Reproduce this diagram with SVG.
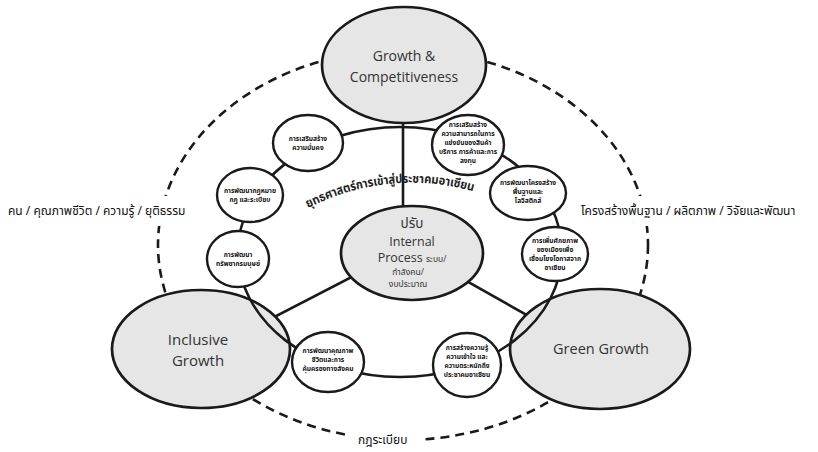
<svg xmlns="http://www.w3.org/2000/svg" width="818" height="452" viewBox="0 0 818 452">
<style>
.big{fill:#e6e6e6;stroke:#1a1a1a;stroke-width:2.7}
.sm{fill:#fff;stroke:#1a1a1a;stroke-width:2.4}
.ln{fill:none;stroke:#1a1a1a;stroke-width:2.6}
.dash{fill:none;stroke:#1a1a1a;stroke-width:2.6;stroke-dasharray:9 6}
.bt{font-family:"Open Sans","Noto Sans","Noto Sans Thai",sans-serif;fill:#333;text-anchor:middle}
.th{font-family:"Noto Sans","Noto Sans Thai","Loma",sans-serif;fill:#111;text-anchor:middle;font-weight:bold;font-size:6.6px}
.lab{font-family:"Noto Sans","Noto Sans Thai",sans-serif;fill:#111;font-size:12px}
</style>
<defs>
<path id="arcp" d="M 308 208 A 226 226 0 0 1 482 194"/>
</defs>
<rect width="818" height="452" fill="#fff"/>
<g id="connectors">
<ellipse class="dash" cx="403" cy="245" rx="245" ry="195"/>
<rect x="150" y="196" width="50" height="30" fill="#fff"/>
<rect x="600" y="196" width="60" height="30" fill="#fff"/>
<rect x="350" y="428" width="75" height="22" fill="#fff"/>
<line class="ln" x1="403" y1="100" x2="403" y2="215"/>
<line class="ln" x1="400" y1="252" x2="230" y2="340"/>
<line class="ln" x1="415" y1="252" x2="580" y2="345"/>
</g>
<g id="growth-competitiveness">
<ellipse class="big" cx="404" cy="65" rx="82" ry="58"/>
<text class="bt" x="404" y="61" font-size="14">Growth &amp;</text>
<text class="bt" x="404" y="82" font-size="14">Competitiveness</text>
</g>
<g id="inclusive-growth">
<ellipse class="big" cx="201" cy="349" rx="89" ry="59"/>
<text class="bt" x="198" y="345" font-size="15">Inclusive</text>
<text class="bt" x="198" y="366" font-size="15">Growth</text>
</g>
<g id="green-growth">
<ellipse class="big" cx="600" cy="349" rx="90" ry="60"/>
<text class="bt" x="601" y="354" font-size="14.5">Green Growth</text>
</g>
<g id="ring">
<ellipse class="ln" cx="400" cy="252" rx="162" ry="125"/>
</g>
<g id="center">
<ellipse class="big" cx="412" cy="253" rx="71" ry="47"/>
<text class="bt" x="412" y="228" font-size="13.5">ปรับ</text>
<text class="bt" x="412" y="246" font-size="12.5">Internal</text>
<text class="bt" x="412" y="262" font-size="12.5">Process <tspan font-size="8.5">ระบบ/</tspan></text>
<text class="bt" x="408" y="275" font-size="8.5">กำลังคน/</text>
<text class="bt" x="408" y="287" font-size="8.5">งบประมาณ</text>
</g>
<g id="s1">
<ellipse class="sm" cx="308" cy="143" rx="35" ry="28"/>
<text class="th" x="308" y="141">การเสริมสร้าง</text>
<text class="th" x="308" y="150">ความมั่นคง</text>
</g>
<g id="s2">
<ellipse class="sm" cx="468" cy="145" rx="36" ry="30"/>
<text class="th" x="468" y="127">การเสริมสร้าง</text>
<text class="th" x="468" y="136">ความสามารถในการ</text>
<text class="th" x="468" y="145">แข่งขันของสินค้า</text>
<text class="th" x="468" y="154">บริการ การค้าและการ</text>
<text class="th" x="468" y="163">ลงทุน</text>
</g>
<g id="s3">
<ellipse class="sm" cx="528" cy="193" rx="38" ry="27"/>
<text class="th" x="528" y="185">การพัฒนาโครงสร้าง</text>
<text class="th" x="528" y="194">พื้นฐานและ</text>
<text class="th" x="528" y="203">โลจิสติกส์</text>
</g>
<g id="s4">
<ellipse class="sm" cx="250" cy="195" rx="33" ry="27"/>
<text class="th" x="250" y="193">การพัฒนากฎหมาย</text>
<text class="th" x="250" y="202">กฎ และระเบียบ</text>
</g>
<g id="s5">
<ellipse class="sm" cx="238" cy="259" rx="31" ry="28"/>
<text class="th" x="238" y="257">การพัฒนา</text>
<text class="th" x="238" y="266">ทรัพยากรมนุษย์</text>
</g>
<g id="s6">
<ellipse class="sm" cx="555" cy="254" rx="33" ry="27"/>
<text class="th" x="555" y="243">การเพิ่มศักยภาพ</text>
<text class="th" x="555" y="252">ของเมืองเพื่อ</text>
<text class="th" x="555" y="261">เชื่อมโยงโอกาสจาก</text>
<text class="th" x="555" y="270">อาเซียน</text>
</g>
<g id="s7">
<ellipse class="sm" cx="328" cy="362" rx="36" ry="30"/>
<text class="th" x="328" y="353">การพัฒนาคุณภาพ</text>
<text class="th" x="328" y="362">ชีวิตและการ</text>
<text class="th" x="328" y="371">คุ้มครองทางสังคม</text>
</g>
<g id="s8">
<ellipse class="sm" cx="467" cy="365" rx="34" ry="32"/>
<text class="th" x="467" y="350">การสร้างความรู้</text>
<text class="th" x="467" y="359">ความเข้าใจ และ</text>
<text class="th" x="467" y="368">ความตระหนักถึง</text>
<text class="th" x="467" y="377">ประชาคมอาเซียน</text>
</g>
<g id="arc-label">
<text font-family="Noto Sans,Noto Sans Thai,sans-serif" font-size="12.5" font-weight="bold" fill="#222"><textPath href="#arcp" textLength="170" lengthAdjust="spacingAndGlyphs">ยุทธศาสตร์การเข้าสู่ประชาคมอาเซียน</textPath></text>
</g>
<g id="labels">
<text class="lab" x="8" y="215">คน / คุณภาพชีวิต / ความรู้ / ยุติธรรม</text>
<text class="lab" x="581" y="215">โครงสร้างพื้นฐาน / ผลิตภาพ / วิจัยและพัฒนา</text>
<text class="lab" x="358" y="444">กฎระเบียบ</text>
</g>
</svg>
